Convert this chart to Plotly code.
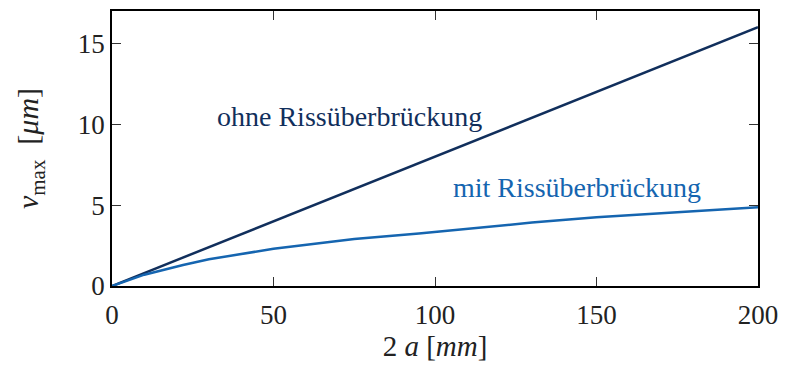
import plotly.graph_objects as go

# data
a_ohne = [0, 200]
v_ohne = [0, 16.0]
a_mit = [0, 10, 22, 30, 50, 60, 75, 95, 130, 150, 175, 200]
v_mit = [0, 0.7, 1.3, 1.65, 2.3, 2.55, 2.9, 3.25, 3.92, 4.25, 4.57, 4.87]
label_ohne = "ohne Rissüberbrückung"
label_mit = "mit Rissüberbrückung"
x_ticks = [0, 50, 100, 150, 200]
y_ticks = [0, 5, 10, 15]

c_ohne = "#112f5c"
c_mit = "#1565b0"
font = "Liberation Serif"

fig = go.Figure()
fig.add_trace(go.Scatter(x=a_ohne, y=v_ohne, mode="lines",
                         line=dict(color=c_ohne, width=2.5), showlegend=False))
fig.add_trace(go.Scatter(x=a_mit, y=v_mit, mode="lines",
                         line=dict(color=c_mit, width=2.5), showlegend=False))

fig.add_annotation(x=73.4, y=10.5, text=label_ohne, showarrow=False,
                   xanchor="center", yanchor="middle",
                   font=dict(family=font, size=28, color=c_ohne))
fig.add_annotation(x=144.1, y=6.07, text=label_mit, showarrow=False,
                   xanchor="center", yanchor="middle",
                   font=dict(family=font, size=28, color=c_mit))

axis_common = dict(showline=True, linecolor="black", linewidth=1.5, mirror="ticks",
                   ticks="inside", ticklen=9, tickwidth=1.2, tickcolor="#333",
                   showgrid=False, zeroline=False,
                   tickfont=dict(family=font, size=27, color="#222"))

fig.update_xaxes(range=[0, 200], tickvals=x_ticks, **axis_common, ticklabelstandoff=4,
                 title=dict(text="2 <i>a</i> [<i>mm</i>]", standoff=7,
                            font=dict(family=font, size=29, color="#222")))
fig.update_yaxes(range=[0, 17], tickvals=y_ticks, **axis_common,
                 title=dict(text="<i>v</i><sub>max</sub>  [<i>μm</i>]", standoff=30,
                            font=dict(family=font, size=30, color="#222")))

# margins compensate for the 8px default page margin
fig.update_layout(width=789, height=367, margin=dict(l=104, r=39, t=1, b=89),
                  plot_bgcolor="white", paper_bgcolor="white")

fig.write_html("out.html")
